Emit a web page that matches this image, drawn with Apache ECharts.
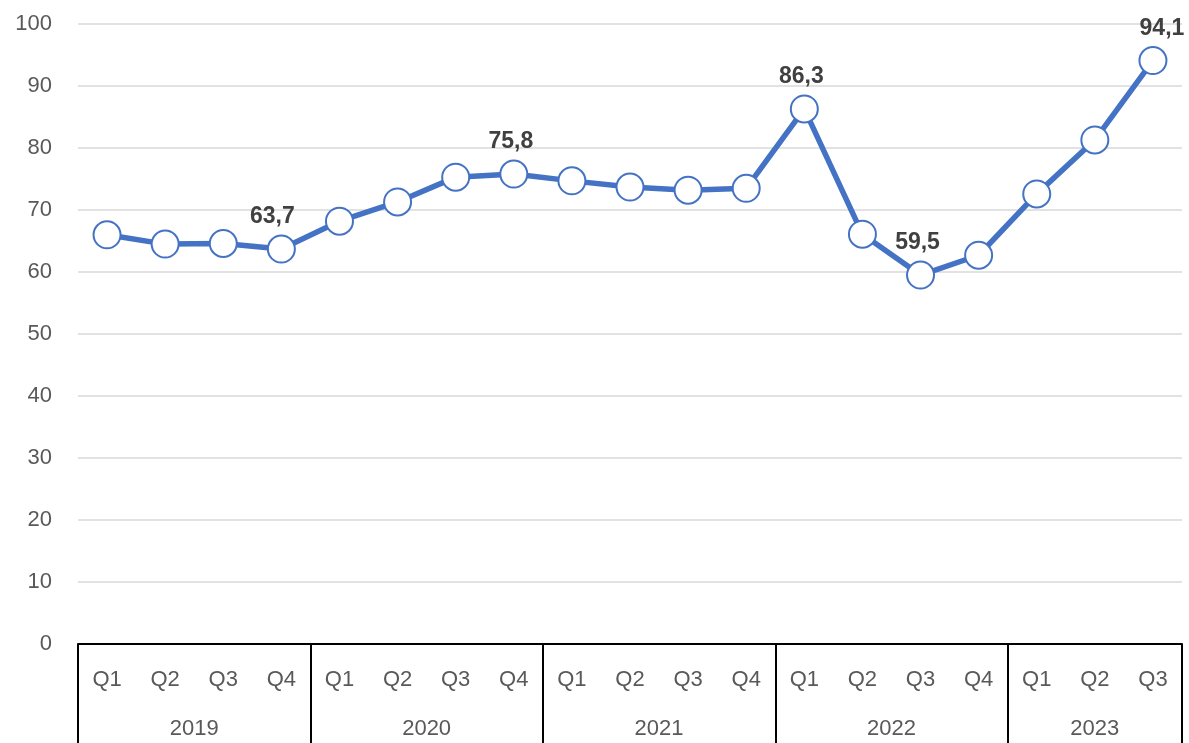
<!DOCTYPE html>
<html>
<head>
<meta charset="utf-8">
<script src="https://cdn.jsdelivr.net/npm/echarts@6/dist/echarts.min.js"></script>
<style>
  html, body { margin: 0; padding: 0; background: #fff; }
  #chart { width: 1189px; height: 743px; }
</style>
</head>
<body>
<div id="chart"></div>
<script>
// data
var years = ['2019', '2020', '2021', '2022', '2023'];
var quartersPerYear = [4, 4, 4, 4, 3];
var values = [66.0, 64.5, 64.6, 63.7, 68.2, 71.3, 75.3, 75.8, 74.7, 73.7, 73.2, 73.5,
              86.3, 66.1, 59.5, 62.7, 72.6, 81.3, 94.1];
var labelledIdx = [3, 7, 12, 14, 18];
var yTicks = [0, 10, 20, 30, 40, 50, 60, 70, 80, 90, 100];

var font = 'Liberation Sans, Arial, sans-serif';

// build quarter categories, year boundaries and year centres
var quarters = [];
var bounds = [0];
var yearCentres = [];
var pos = 0;
years.forEach(function (y, i) {
    for (var q = 1; q <= quartersPerYear[i]; q++) quarters.push('Q' + q);
    yearCentres.push(pos + quartersPerYear[i] / 2);
    pos += quartersPerYear[i];
    bounds.push(pos);
});

// small nudges so the labels sit like in the original
function labelShift(i) {
    if (i === 3) return [-9, 0];
    if (i === values.length - 1) return [9, 0];
    return [-3, 0];
}

var seriesData = values.map(function (v, i) {
    return {
        value: v,
        label: { show: labelledIdx.indexOf(i) >= 0, offset: labelShift(i) }
    };
});

var chart = echarts.init(document.getElementById('chart'), null, { renderer: 'canvas' });

var option = {
    animation: false,
    grid: { left: 78, right: 7, top: 24, bottom: 99, containLabel: false },
    xAxis: [
        {
            type: 'category',
            data: quarters,
            boundaryGap: true,
            position: 'bottom',
            axisLine: { show: true, lineStyle: { color: '#000', width: 2 } },
            axisTick: { show: false },
            axisLabel: { color: '#595959', fontSize: 22, fontFamily: font, margin: 25, interval: 0 },
            splitLine: { show: false }
        },
        {
            type: 'value',
            min: 0,
            max: pos,
            position: 'bottom',
            offset: 0,
            axisLine: { show: false },
            axisTick: {
                show: true,
                customValues: bounds,
                length: 110,
                lineStyle: { color: '#000', width: 2 }
            },
            axisLabel: {
                show: true,
                customValues: yearCentres,
                color: '#595959', fontSize: 22, fontFamily: font, margin: 74,
                formatter: function (v) {
                    var k = yearCentres.indexOf(v);
                    return k >= 0 ? years[k] : '';
                }
            },
            splitLine: { show: false }
        }
    ],
    yAxis: {
        type: 'value',
        min: yTicks[0],
        max: yTicks[yTicks.length - 1],
        interval: 10,
        axisLine: { show: false },
        axisTick: { show: false },
        axisLabel: { color: '#595959', fontSize: 22, fontFamily: font, margin: 26 },
        splitLine: { lineStyle: { color: '#d9d9d9', width: 1.5 } }
    },
    series: [{
        type: 'line',
        xAxisIndex: 0,
        data: seriesData,
        symbol: 'circle',
        symbolSize: 27,
        showAllSymbol: true,
        lineStyle: { color: '#4472C4', width: 5.5 },
        itemStyle: { color: '#fff', borderColor: '#4472C4', borderWidth: 2 },
        label: {
            position: 'top',
            distance: 6,
            color: '#404040',
            fontSize: 23,
            fontWeight: 'bold',
            fontFamily: font,
            formatter: function (p) { return p.value.toFixed(1).replace('.', ','); }
        },
        emphasis: { disabled: true }
    }]
};

chart.setOption(option);
</script>
</body>
</html>
